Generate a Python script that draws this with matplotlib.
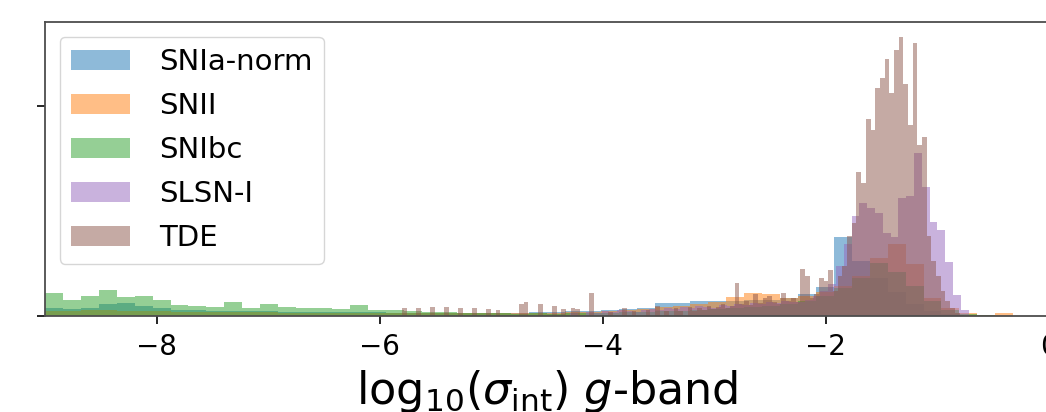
import numpy as np
import matplotlib
matplotlib.use("Agg")
import matplotlib.pyplot as plt

# clases y colores (tab10)
clases = ["SNIa-norm", "SNII", "SNIbc", "SLSN-I", "TDE"]
colores = ["#1f77b4", "#ff7f0e", "#2ca02c", "#9467bd", "#8c564b"]

# cuentas por bin
# SNIa-norm, SNII y SNIbc: 56 bins entre -9 y 0
rango_ancho = (-9.0, 0.0)
snia = [8, 7, 8, 12, 13, 10, 8, 6, 6, 5,
        5, 5, 5, 4, 4, 4, 4, 4, 4, 3,
        3, 3, 3, 3, 3, 3, 3, 4, 4, 5,
        5, 6, 7, 8, 13, 13, 15, 15, 15, 16,
        16, 18, 22, 29, 79, 55, 38, 24, 12, 5,
        2, 1, 0, 0, 0, 0]
snii = [5, 5, 6, 6, 5, 5, 5, 4, 4, 4,
        4, 4, 4, 3, 3, 3, 3, 3, 3, 3,
        3, 3, 3, 3, 3, 3, 3, 3, 3, 4,
        4, 5, 6, 7, 9, 10, 12, 14, 19, 23,
        22, 18, 20, 24, 30, 40, 58, 72, 52, 18,
        8, 3, 1, 3, 0, 0]
snibc = [23, 16, 20, 26, 19, 20, 16, 11, 10, 9,
         14, 8, 12, 9, 8, 8, 7, 11, 6, 6,
         5, 4, 4, 3, 3, 3, 2, 3, 2, 3,
         3, 3, 4, 4, 5, 5, 6, 7, 8, 9,
         10, 12, 15, 20, 28, 38, 53, 44, 30, 15,
         6, 2, 1, 0, 0, 0]

# SLSN-I: 51 bins entre -4.29 y -0.72
rango_slsn = (-4.29, -0.72)
slsn = [3, 0, 4, 3, 5, 4, 6, 5, 4, 6,
        7, 6, 8, 7, 9, 8, 10, 9, 8, 11,
        10, 12, 11, 13, 12, 14, 13, 15, 14, 14,
        16, 20, 25, 32, 50, 72, 100, 113, 108, 103,
        83, 79, 118, 120, 163, 129, 94, 86, 54, 21,
        6]

# TDE: 120 bins entre -5.8 y -0.76
rango_tde = (-5.8, -0.76)
tde = [8, 0, 0, 8, 0, 0, 9, 0, 0, 9,
       0, 0, 8, 0, 0, 8, 0, 0, 7, 0,
       6, 0, 0, 0, 0, 12, 14, 0, 0, 12,
       0, 0, 10, 0, 7, 0, 8, 7, 0, 0,
       23, 0, 0, 0, 4, 0, 0, 8, 0, 5,
       0, 0, 6, 0, 10, 0, 5, 0, 8, 5,
       0, 9, 5, 8, 6, 10, 7, 9, 12, 8,
       10, 33, 12, 15, 11, 22, 13, 18, 20, 14,
       12, 23, 15, 18, 14, 47, 40, 18, 22, 38,
       35, 46, 25, 40, 50, 80, 93, 144, 133, 197,
       186, 228, 238, 257, 223, 266, 279, 232, 191, 273,
       171, 179, 80, 55, 40, 25, 15, 8, 3, 1]

series = [(snia, rango_ancho), (snii, rango_ancho), (snibc, rango_ancho),
          (slsn, rango_slsn), (tde, rango_tde)]

fig = plt.figure(figsize=(10.46, 4.12), dpi=100)
ax = fig.add_axes([45 / 1046, 96 / 412, 1004 / 1046, 294 / 412])

for (cuentas, rango), nombre, color in zip(series, clases, colores):
    bordes = np.linspace(rango[0], rango[1], len(cuentas) + 1)
    ax.hist(bordes[:-1], bins=bordes, weights=cuentas, alpha=0.5,
            color=color, label=nombre)

ax.set_xlim(-9, 0)
ax.set_ylim(0, 294)
ax.set_xticks([-8, -6, -4, -2, 0])
ax.set_yticks([0, 210])
ax.tick_params(labelsize=20, length=6, width=1.2, pad=6)
ax.tick_params(axis="y", labelleft=False)
for s in ax.spines.values():
    s.set_linewidth(1.3)
    s.set_color("0.3")
ax.set_xlabel(r"$\mathrm{log}_{10}(\sigma_{\rm int})$ $g$-band", fontsize=32, labelpad=5)
ax.legend(loc="upper left", fontsize=21, handletextpad=1.0, labelspacing=0.55)

fig.savefig("out.png", dpi=100)
plt.close(fig)
